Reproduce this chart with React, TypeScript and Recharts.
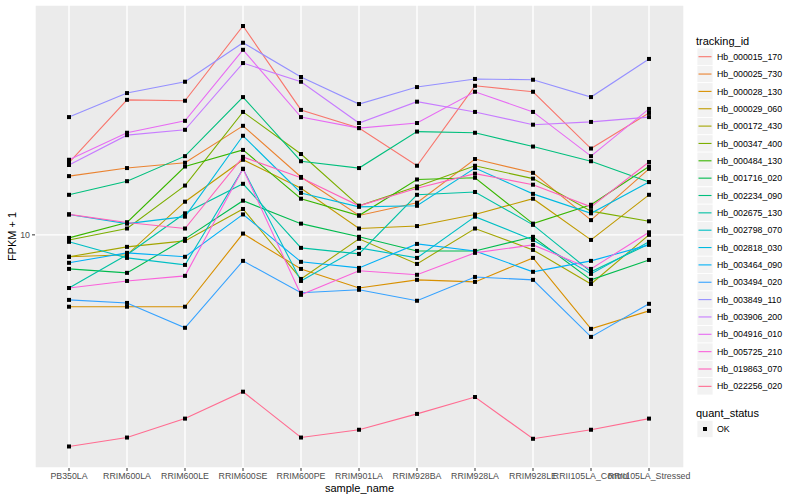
import React from 'react';
import { LineChart, Line, XAxis, YAxis, CartesianGrid, Legend } from 'recharts';

const samples = [
  'PB350LA', 'RRIM600LA', 'RRIM600LE', 'RRIM600SE', 'RRIM600PE', 'RRIM901LA',
  'RRIM928BA', 'RRIM928LA', 'RRIM928LE', 'RRII105LA_Control', 'RRII105LA_Stressed',
];

const trackingIds = [
  'Hb_000015_170', 'Hb_000025_730', 'Hb_000028_130', 'Hb_000029_060', 'Hb_000172_430',
  'Hb_000347_400', 'Hb_000484_130', 'Hb_001716_020', 'Hb_002234_090', 'Hb_002675_130',
  'Hb_002798_070', 'Hb_002818_030', 'Hb_003464_090', 'Hb_003494_020', 'Hb_003849_110',
  'Hb_003906_200', 'Hb_004916_010', 'Hb_005725_210', 'Hb_019863_070', 'Hb_022256_020',
];

const colors = [
  '#F8766D', '#EA8331', '#D89000', '#C09B00', '#A3A500',
  '#7CAE00', '#39B600', '#00BB4E', '#00BF7D', '#00C1A3',
  '#00BFC4', '#00BAE0', '#00B0F6', '#35A2FF', '#9590FF',
  '#C77CFF', '#E76BF3', '#FA62DB', '#FF62BC', '#FF6C91',
];

const yTicks = [10];

const s01 = [17.4, 28.2, 28.0, 49.7, 26.1, 22.7, 17.0, 31.4, 30.0, 19.4, 25.5];
const s02 = [15.7, 16.7, 17.4, 23.1, 15.6, 11.6, 12.8, 17.9, 16.1, 11.2, 16.6];
const s03 = [5.76, 5.76, 5.76, 10.1, 7.70, 6.65, 7.08, 6.97, 8.38, 4.86, 5.58];
const s04 = [8.45, 8.58, 12.9, 17.8, 14.3, 10.5, 10.7, 11.7, 13.2, 9.62, 13.6];
const s05 = [8.45, 9.12, 9.55, 12.2, 7.13, 9.70, 8.00, 10.5, 8.91, 6.86, 10.0];
const s06 = [9.62, 10.5, 14.6, 25.7, 18.6, 12.5, 14.5, 17.0, 15.4, 12.0, 11.1];
const s07 = [9.77, 11.0, 16.9, 19.2, 13.2, 11.6, 15.3, 15.5, 10.9, 12.6, 16.9];
const s08 = [7.70, 7.47, 9.70, 13.0, 10.9, 9.85, 8.84, 8.84, 9.85, 7.08, 8.25];
const s09 = [13.6, 15.1, 18.3, 28.8, 17.6, 16.7, 22.1, 21.9, 19.7, 17.6, 15.0];
const s10 = [6.65, 8.58, 11.8, 14.8, 9.05, 8.64, 13.6, 13.9, 10.8, 7.53, 9.33];
const s11 = [9.48, 8.38, 7.94, 16.6, 7.02, 9.05, 8.38, 11.5, 9.62, 7.41, 9.48];
const s12 = [11.7, 10.9, 11.5, 21.4, 13.8, 12.4, 12.5, 16.7, 13.7, 11.8, 15.0];
const s13 = [8.07, 8.71, 8.45, 11.7, 8.13, 7.76, 9.33, 8.84, 7.53, 8.19, 9.26];
const s14 = [6.07, 5.93, 4.90, 8.19, 6.41, 6.56, 6.03, 7.24, 7.08, 4.57, 5.89];
const s15 = [24.7, 29.7, 32.4, 43.7, 33.6, 27.3, 31.1, 33.1, 32.9, 28.8, 38.6];
const s16 = [17.1, 21.5, 22.4, 37.4, 32.4, 23.6, 27.8, 25.7, 23.3, 23.8, 24.7];
const s17 = [17.8, 21.9, 24.0, 41.4, 24.7, 22.7, 23.6, 30.0, 25.7, 18.3, 26.3];
const s18 = [6.65, 7.02, 7.30, 16.6, 6.31, 7.59, 7.36, 8.71, 9.26, 7.70, 10.2];
const s19 = [11.7, 11.0, 10.5, 18.2, 15.5, 12.5, 14.3, 16.0, 14.7, 12.4, 17.5];
const s20 = [1.97, 2.11, 2.44, 3.00, 2.11, 2.24, 2.53, 2.88, 2.09, 2.24, 2.44];

const seriesValues = [s01, s02, s03, s04, s05, s06, s07, s08, s09, s10,
  s11, s12, s13, s14, s15, s16, s17, s18, s19, s20];

const data = samples.map((sample, i) => {
  const row: Record<string, string | number> = { sample };
  trackingIds.forEach((id, j) => {
    row[id] = seriesValues[j][i];
  });
  return row;
});

const FONT = '"Liberation Sans", Arial, Helvetica, sans-serif';

const SquareDot = (props: any) => {
  const { cx, cy, index, dataKey } = props;
  if (cx == null || cy == null) return <g key={`${dataKey}-${index}`} />;
  return <rect key={`${dataKey}-${index}`} x={cx - 2} y={cy - 2} width={4} height={4} fill="#000000" />;
};

const LegendBox = () => {
  const rowH = 17.35;
  const first = 56.7;
  return (
    <svg width={110} height={500} style={{ display: 'block', fontFamily: FONT }}>
      <text x={6} y={44.5} fontSize={11} fill="#000">tracking_id</text>
      {trackingIds.map((id, i) => {
        const cy = first + i * rowH;
        return (
          <g key={id}>
            <rect x={7} y={cy - rowH / 2} width={16} height={rowH} fill="#F2F2F2" stroke="#FFFFFF" strokeWidth={0.8} />
            <line x1={8.5} x2={21.5} y1={cy} y2={cy} stroke={colors[i]} strokeWidth={1.1} />
            <text x={27} y={cy + 3.1} fontSize={8.8} fill="#000">{id}</text>
          </g>
        );
      })}
      <text x={6} y={416.5} fontSize={11} fill="#000">quant_status</text>
      <rect x={7} y={429 - rowH / 2} width={16} height={rowH} fill="#F2F2F2" stroke="#FFFFFF" strokeWidth={0.8} />
      <rect x={13} y={427} width={4} height={4} fill="#000" />
      <text x={27} y={432.1} fontSize={8.8} fill="#000">OK</text>
    </svg>
  );
};

export default function App() {
  return (
    <div style={{ position: 'absolute', left: 0, top: 0, width: 800, height: 500, background: '#fff' }}>
      <LineChart
        width={800}
        height={500}
        data={data}
        margin={{ top: 5, right: 116, bottom: 0, left: 0 }}
        style={{ fontFamily: FONT }}
      >
        <CartesianGrid fill="#EBEBEB" stroke="#FFFFFF" strokeWidth={1.4} />
        <XAxis
          dataKey="sample"
          interval={0}
          padding={{ left: 34, right: 35 }}
          height={32}
          tickSize={3}
          tickMargin={2}
          axisLine={false}
          tickLine={{ stroke: '#333333' }}
          tick={{ fill: '#4D4D4D', fontSize: 8.8, fontFamily: FONT }}
          label={{ value: 'sample_name', position: 'insideBottom', offset: 8, fill: '#000000', fontSize: 11, fontFamily: FONT }}
        />
        <YAxis
          scale="log"
          domain={[1.67, 58.4]}
          ticks={yTicks}
          allowDataOverflow
          width={35}
          tickSize={3}
          tickMargin={2}
          axisLine={false}
          tickLine={{ stroke: '#333333' }}
          tick={{ fill: '#4D4D4D', fontSize: 8.8, fontFamily: FONT }}
          label={{ value: 'FPKM + 1', angle: -90, position: 'insideLeft', offset: 12, fill: '#000000', fontSize: 11, fontFamily: FONT, style: { textAnchor: 'middle' } }}
        />
        {trackingIds.map((id, i) => (
          <Line
            key={`line-${id}`}
            type="linear"
            dataKey={id}
            stroke={colors[i]}
            strokeWidth={1.1}
            dot={false}
            activeDot={false}
            isAnimationActive={false}
          />
        ))}
        {trackingIds.map((id) => (
          <Line
            key={`pts-${id}`}
            type="linear"
            dataKey={id}
            stroke="none"
            legendType="none"
            dot={SquareDot}
            activeDot={false}
            isAnimationActive={false}
          />
        ))}
        <Legend
          layout="vertical"
          align="center"
          verticalAlign="middle"
          wrapperStyle={{ left: 690, top: 0, width: 110, height: 500 }}
          content={() => <LegendBox />}
        />
      </LineChart>
    </div>
  );
}
